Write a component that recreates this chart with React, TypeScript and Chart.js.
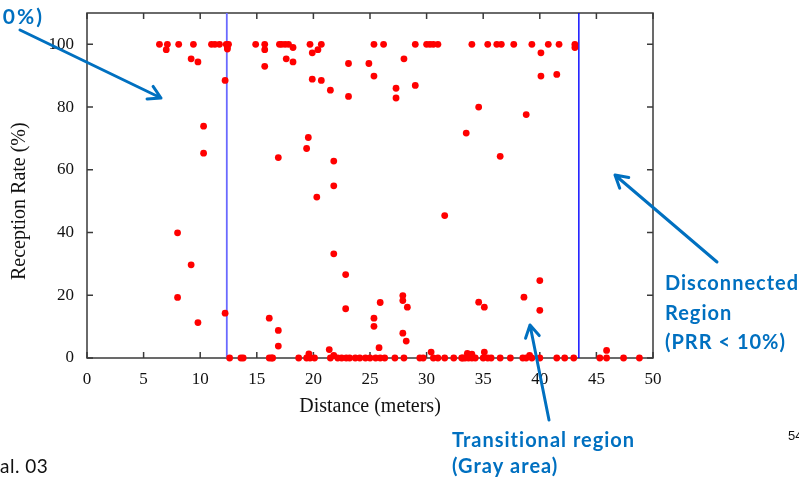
import React, { useEffect, useRef } from "react";
import { Chart, registerables } from "chart.js";

Chart.register(...registerables);

// Distance (meters) of each measured link
const distance = [
  6.4, 7.1, 7.0, 8.1, 9.2, 9.4, 9.8, 10.3, 10.3, 8.0, 9.2, 8.0, 9.8,
  11.0, 11.3, 11.7, 12.3, 12.4, 12.5, 12.4, 12.2, 12.2, 12.6, 13.6, 13.8,
  14.9, 15.7, 15.7, 15.7, 16.1, 16.3, 16.4, 16.1, 16.9, 16.9, 16.9,
  17.0, 17.2, 17.5, 17.8, 18.2, 17.6, 18.2, 18.7, 19.4, 19.7, 20.1, 19.6,
  19.7, 19.9, 20.4, 20.7, 19.9, 20.7, 21.5, 19.55, 19.4, 21.8, 21.8, 20.3,
  21.8, 22.85, 22.85, 21.4, 21.5, 21.8, 22.15, 22.5, 22.9, 23.2, 23.7, 24.1,
  24.6, 25.0, 23.1, 23.1, 24.9, 25.35, 25.35, 26.2, 25.35, 25.35, 25.9, 25.8,
  25.5, 25.9, 26.3, 27.2, 28.0, 27.3, 27.3, 28.0, 29.0, 29.0, 27.9, 27.9,
  28.3, 27.9, 28.2, 29.4, 29.7, 30.0, 30.3, 30.6, 31.0, 30.4, 30.6, 31.0,
  31.6, 32.4, 31.6, 33.2, 33.5, 33.1, 33.4, 33.7, 34.0, 34.3, 33.6, 34.0,
  34.0, 34.6, 34.6, 35.1, 35.1, 35.0, 35.4, 35.7, 35.4, 36.2, 36.6, 36.5,
  36.5, 37.4, 37.7, 38.5, 38.8, 39.1, 39.3, 39.3, 38.8, 38.6, 40.0, 40.0,
  40.0, 40.1, 40.1, 40.75, 41.5, 41.5, 41.7, 42.2, 43.0, 43.1, 43.1, 45.3,
  45.9, 45.9, 47.4, 48.8,
];

// Packet reception rate (%) for each link, same order as distance
const receptionRate = [
  100, 100, 98.3, 100, 95.4, 100, 94.4, 73.9, 65.3, 39.9, 29.7, 19.3, 11.3,
  100, 100, 100, 100, 99, 100, 98.5, 88.5, 14.3, 0, 0, 0,
  100, 100, 98.3, 93, 0, 0, 0, 12.7, 8.8, 3.8, 63.9,
  100, 100, 100, 100, 99, 95.4, 94.4, 0, 0, 0, 0, 1.3,
  100, 97.3, 98.3, 100, 88.9, 88.5, 85.4, 70.3, 66.8, 62.8, 54.9, 51.3,
  33.2, 26.6, 15.7, 2.7, 0, 0.8, 0, 0, 0, 0, 0, 0,
  0, 0, 93.9, 83.4, 93.9, 100, 89.9, 100, 12.7, 10.1, 17.7, 3.3,
  0, 0, 0, 0, 0, 86, 82.9, 95.4, 100, 86.9, 19.9, 18.3,
  16.2, 7.9, 5.4, 0, 0, 100, 100, 100, 100, 1.9, 0, 0,
  0, 0, 45.4, 0, 71.7, 0, 0, 0, 0, 0, 1.5, 1.2,
  100, 80, 17.8, 16.2, 1.9, 0, 0, 0, 100, 100, 100, 64.3,
  0, 0, 100, 0, 0, 0.8, 0, 100, 77.6, 19.4, 24.7, 15.2,
  0, 97.3, 89.9, 100, 90.4, 0, 100, 0, 0, 100, 99, 0,
  0, 2.4, 0, 0,
];

// Region boundaries (meters)
const boundaries = [12.35, 43.45];
const boundaryColors = ["#6a6aff", "#0000ff"];

// Axis ticks
const xTicks = [0, 5, 10, 15, 20, 25, 30, 35, 40, 45, 50];
const yTicks = [0, 20, 40, 60, 80, 100];

const serif = "'Liberation Serif', 'Times New Roman', serif";
const annoFamily = "Lato, 'Open Sans', sans-serif";
const blue = "#0070c0";

function arrow(ctx: CanvasRenderingContext2D, x1: number, y1: number, x2: number, y2: number) {
  const a = Math.atan2(y2 - y1, x2 - x1);
  const L = 14;
  const w = 0.52;
  ctx.save();
  ctx.strokeStyle = blue;
  ctx.lineWidth = 3;
  ctx.lineCap = "round";
  ctx.lineJoin = "round";
  ctx.beginPath();
  ctx.moveTo(x1, y1);
  ctx.lineTo(x2, y2);
  ctx.moveTo(x2 - L * Math.cos(a - w), y2 - L * Math.sin(a - w));
  ctx.lineTo(x2, y2);
  ctx.lineTo(x2 - L * Math.cos(a + w), y2 - L * Math.sin(a + w));
  ctx.stroke();
  ctx.restore();
}

const framePlugin = {
  id: "gnuFrame",
  beforeDatasetsDraw(chart: any) {
    const { ctx, chartArea } = chart;
    const { left, right, top, bottom } = chartArea;
    const xs = chart.scales.x;
    const ys = chart.scales.y;
    ctx.save();
    ctx.strokeStyle = "#3a3a3a";
    ctx.lineWidth = 1.5;
    ctx.strokeRect(left, top, right - left, bottom - top);
    const t = 6;
    ctx.beginPath();
    xTicks.forEach((v) => {
      const px = xs.getPixelForValue(v);
      ctx.moveTo(px, bottom);
      ctx.lineTo(px, bottom - t);
      ctx.moveTo(px, top);
      ctx.lineTo(px, top + t);
    });
    yTicks.forEach((v) => {
      const py = ys.getPixelForValue(v);
      ctx.moveTo(left, py);
      ctx.lineTo(left + t, py);
      ctx.moveTo(right, py);
      ctx.lineTo(right - t, py);
    });
    ctx.stroke();
    ctx.restore();
  },
  afterDraw(chart: any) {
    const { ctx } = chart;
    const ys = chart.scales.y;
    ctx.save();
    // y axis title
    ctx.fillStyle = "#111";
    ctx.font = `20px ${serif}`;
    ctx.textAlign = "center";
    ctx.textBaseline = "middle";
    ctx.translate(20, (ys.getPixelForValue(0) + ys.getPixelForValue(100)) / 2);
    ctx.rotate(-Math.PI / 2);
    ctx.fillText("Reception Rate (%)", 0, 0);
    ctx.restore();

    ctx.save();
    ctx.fillStyle = blue;
    ctx.textBaseline = "alphabetic";
    ctx.textAlign = "right";
    ctx.font = `bold 21px ${annoFamily}`;
    (ctx as any).letterSpacing = "2px";
    ctx.fillText("(PRR > 90%)", 44, 24);
    ctx.font = `bold 20px ${annoFamily}`;
    (ctx as any).letterSpacing = "1px";
    ctx.textAlign = "left";
    ctx.fillText("Disconnected", 665, 290);
    ctx.fillText("Region", 665, 320);
    ctx.fillText("(PRR < 10%)", 665, 349);
    ctx.fillText("Transitional region", 452, 447);
    ctx.fillText("(Gray area)", 452, 473);

    ctx.fillStyle = "#111";
    ctx.font = `19px ${annoFamily}`;
    (ctx as any).letterSpacing = "0.5px";
    ctx.fillText("al. 03", 0, 473);
    (ctx as any).letterSpacing = "0px";
    ctx.font = `13px 'Liberation Sans', Arial, sans-serif`;
    ctx.fillText("54", 788, 440);
    ctx.restore();

    arrow(ctx, 20, 30, 161, 98);
    arrow(ctx, 717, 262, 615, 175);
    arrow(ctx, 549, 420, 530, 325);
  },
};

export default function App() {
  const ref = useRef<HTMLCanvasElement | null>(null);
  useEffect(() => {
    if (!ref.current) return;
    const scatter = distance.map((d, i) => ({ x: d, y: receptionRate[i] }));
    const lineSets = boundaries.map((b, i) => ({
      label: `boundary ${i}`,
      data: [
        { x: b, y: 0 },
        { x: b, y: 110 },
      ],
      showLine: true,
      borderColor: boundaryColors[i],
      borderWidth: i === 0 ? 1.8 : 1.4,
      pointRadius: 0,
      order: 2,
    }));
    const chart = new Chart(ref.current, {
      type: "scatter",
      data: {
        datasets: [
          {
            label: "PRR",
            data: scatter,
            backgroundColor: "#ff0000",
            borderWidth: 0,
            pointRadius: 3.4,
            clip: false as any,
            order: 0,
          } as any,
          ...lineSets,
        ],
      },
      plugins: [framePlugin as any],
      options: {
        animation: false,
        responsive: false,
        events: [],
        layout: { padding: { left: 0, right: 146, top: 13, bottom: 0 } },
        plugins: { legend: { display: false }, tooltip: { enabled: false } },
        scales: {
          x: {
            type: "linear",
            min: 0,
            max: 50,
            grid: { display: false, drawTicks: false },
            border: { display: false },
            ticks: {
              stepSize: 5,
              padding: 11,
              color: "#111",
              font: { family: serif, size: 17 },
              maxRotation: 0,
            },
            title: {
              display: true,
              text: "Distance (meters)",
              color: "#111",
              font: { family: serif, size: 20 },
              padding: { top: 0, bottom: 60 },
            },
            afterFit: (s: any) => {
              s.height = 121;
              s.paddingLeft = 0;
              s.paddingRight = 0;
              s.paddingTop = 0;
              s.paddingBottom = 0;
            },
          },
          y: {
            type: "linear",
            min: 0,
            max: 110,
            grid: { display: false, drawTicks: false },
            border: { display: false },
            ticks: {
              stepSize: 20,
              includeBounds: false,
              padding: 13,
              color: "#111",
              font: { family: serif, size: 17 },
            },
            afterFit: (s: any) => {
              s.width = 87;
              s.paddingTop = 0;
              s.paddingBottom = 0;
              s.paddingLeft = 0;
              s.paddingRight = 0;
            },
          },
        },
      },
    });
    return () => chart.destroy();
  }, []);
  return (
    <div
      style={{
        position: "fixed",
        left: 0,
        top: 0,
        width: 799,
        height: 479,
        background: "#fff",
        overflow: "hidden",
      }}
    >
      <canvas ref={ref} width={799} height={479} />
    </div>
  );
}
